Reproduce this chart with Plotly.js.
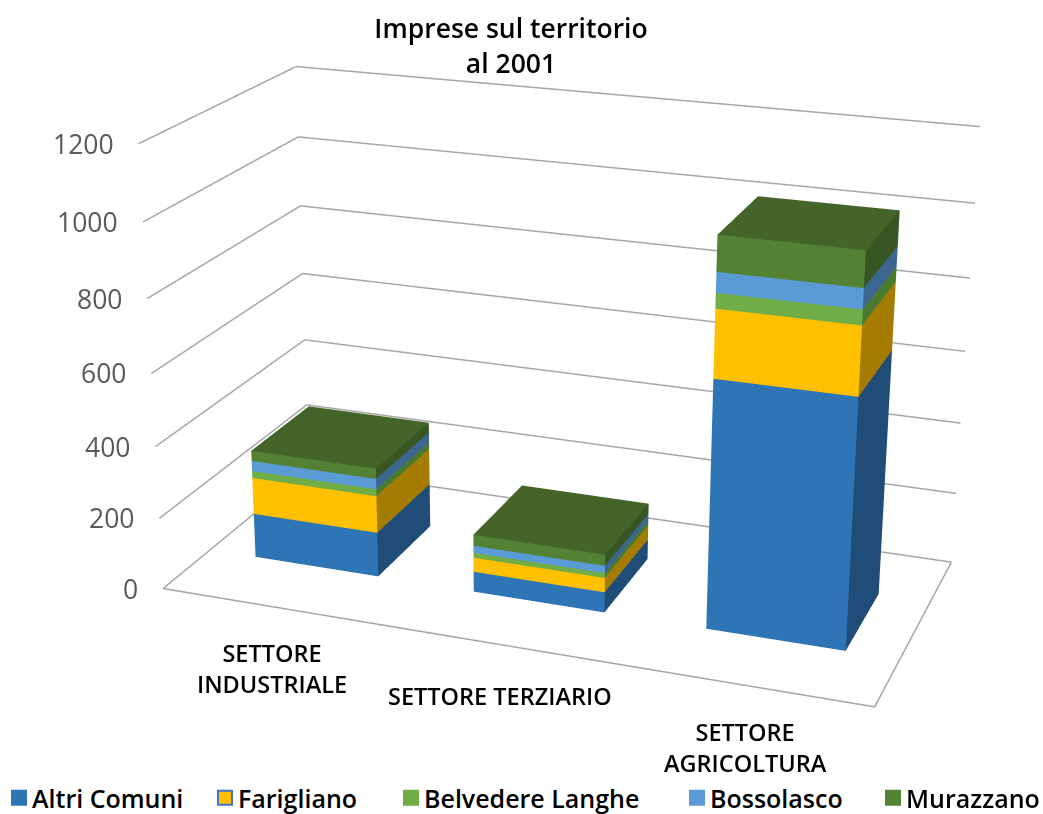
<!DOCTYPE html><html><head><meta charset="utf-8"><script src="https://cdn.plot.ly/plotly-3.0.1.min.js"></script>
<style>html,body{margin:0;padding:0;background:#fff;overflow:hidden}.legend .scrollbox{clip-path:none !important}</style></head><body><div id="g" style="width:1043px;height:814px"></div>
<script>
const categories=['SETTORE<br>INDUSTRIALE','SETTORE TERZIARIO','SETTORE<br>AGRICOLTURA'];
const seriesNames=['Altri Comuni','Farigliano','Belvedere Langhe','Bossolasco','Murazzano'];
const altriComuni=[126,57,674];
const farigliano=[104,40,180];
const belvedereLanghe=[20,14,40];
const bossolasco=[29,20,53];
const murazzano=[29,31,93];
const zTicks=[0,200,400,600,800,1000,1200];
const seriesValues=[altriComuni,farigliano,belvedereLanghe,bossolasco,murazzano];
const frontColors=['#2e75b6','#ffc000','#70ad47','#5b9bd5','#548235'];
const sideColors=['#1f4d78','#a67c00','#4b7a2e','#3b668f','#375623'];
const topColors=['#2e75b6','#ffc000','#70ad47','#5b9bd5','#446429'];
const legendBorders=['#2e75b6','#4472c4','#70ad47','#5b9bd5','#548235'];
const barX=[.215,.785],barY=[.30,.70];
const P=[2.2897,-6.4176,2.4246,-0.0956,-0.0856,-0.1196,0.0039,2.1195,1.0,1.3378,6.1964];
const labelShift=[[0,-62],[-1,-51],[0,-62]];
const legendSlots=[-8,198,384,670,866];
const tickFont={family:'Open Sans',size:26.5,color:'#595959'};
const catFont={family:'Open Sans',size:23.5,color:'#000',weight:600};
function barMesh(s){
 const x=[],y=[],z=[],i=[],j=[],k=[],fc=[];
 categories.forEach((_,c)=>{
  let z0=0;for(let q=0;q<s;q++)z0+=seriesValues[q][c];const z1=z0+seriesValues[s][c];
  const x0=c+barX[0],x1=c+barX[1],y0=barY[0],y1=barY[1],n=x.length;
  [[x0,y0,z0],[x1,y0,z0],[x1,y1,z0],[x0,y1,z0],[x0,y0,z1],[x1,y0,z1],[x1,y1,z1],[x0,y1,z1]].forEach(v=>{x.push(v[0]);y.push(v[1]);z.push(v[2])});
  const quad=(a,b,d,e,col)=>{i.push(n+a,n+a);j.push(n+b,n+d);k.push(n+d,n+e);fc.push(col,col)};
  quad(0,1,5,4,frontColors[s]);quad(1,2,6,5,sideColors[s]);quad(4,5,6,7,topColors[s]);
 });
 return {type:'mesh3d',name:seriesNames[s],x,y,z,i,j,k,facecolor:fc,flatshading:true,showlegend:false,showscale:false,hoverinfo:'skip',
  lighting:{ambient:1,diffuse:0,specular:0,fresnel:0,roughness:1}};
}
function legendKey(s){return {type:'scatter3d',mode:'markers',name:seriesNames[s],x:[null],y:[null],z:[null],showlegend:true,hoverinfo:'skip',
 marker:{symbol:'square',size:14,color:frontColors[s],line:{color:legendBorders[s],width:2}}}}
const gx=[],gy=[],gz=[];
zTicks.forEach(t=>{gx.push(0,0,3,null);gy.push(0,1,1,null);gz.push(t,t,t,null)});
gx.push(0,3,3);gy.push(0,0,1);gz.push(0,0,0);
const grid={type:'scatter3d',mode:'lines',x:gx,y:gy,z:gz,line:{color:'#a6a6a6',width:3},showlegend:false,hoverinfo:'skip',connectgaps:false};
const ax={showgrid:false,zeroline:false,showline:false,showticklabels:false,ticks:'',showbackground:false,title:{text:''},showspikes:false,visible:true};
const ann=[];
zTicks.forEach(t=>ann.push({x:0,y:0,z:t,text:String(t),showarrow:false,xanchor:'right',xshift:-23,font:tickFont}));
categories.forEach((c,n)=>ann.push({x:n+.5,y:0,z:0,text:c,showarrow:false,xanchor:'center',yanchor:'middle',xshift:labelShift[n][0],yshift:labelShift[n][1],font:catFont}));
const gd=document.getElementById('g');
Plotly.newPlot(gd,[...seriesValues.map((_,s)=>barMesh(s)),...seriesNames.map((_,s)=>legendKey(s)),grid],{margin:{l:0,r:0,t:0,b:0,autoexpand:false},width:1043,height:814,paper_bgcolor:'#fff',
 title:{text:'Imprese sul territorio<br>al 2001',x:511/1043,xanchor:'center',y:.953,yanchor:'top',font:{family:'Open Sans',size:26.5,color:'#000',weight:600}},
 showlegend:true,legend:{orientation:'h',x:0,y:0,yanchor:'bottom',traceorder:'normal',font:{family:'Open Sans',size:25,color:'#000',weight:600}},
 scene:{domain:{x:[0,1],y:[0,1]},aspectmode:'manual',aspectratio:{x:P[7],y:P[8],z:P[9]},camera:{eye:{x:P[0],y:P[1],z:P[2]},center:{x:P[3],y:P[4],z:P[5]},up:{x:P[6],y:0,z:1}},
 xaxis:{...ax,range:[0,3]},yaxis:{...ax,range:[0,1]},zaxis:{...ax,range:[0,1200]},annotations:ann}},{displayModeBar:false}).then(()=>{
 const g=gd._fullLayout.scene._scene.glplot;g.fovy=2*Math.atan(1/P[10]);g.redraw();
 gd.querySelectorAll('.legend .traces').forEach((t,n)=>{
  const m=/translate\(([^,]+),\s*([^)]+)\)/.exec(t.getAttribute('transform'));
  t.setAttribute('transform','translate('+legendSlots[n]+','+(parseFloat(m[2])+7)+')');
  const sym=t.querySelector('.legendsymbols');if(sym)sym.setAttribute('transform','translate(7,0)');
 });
});
</script></body></html>
